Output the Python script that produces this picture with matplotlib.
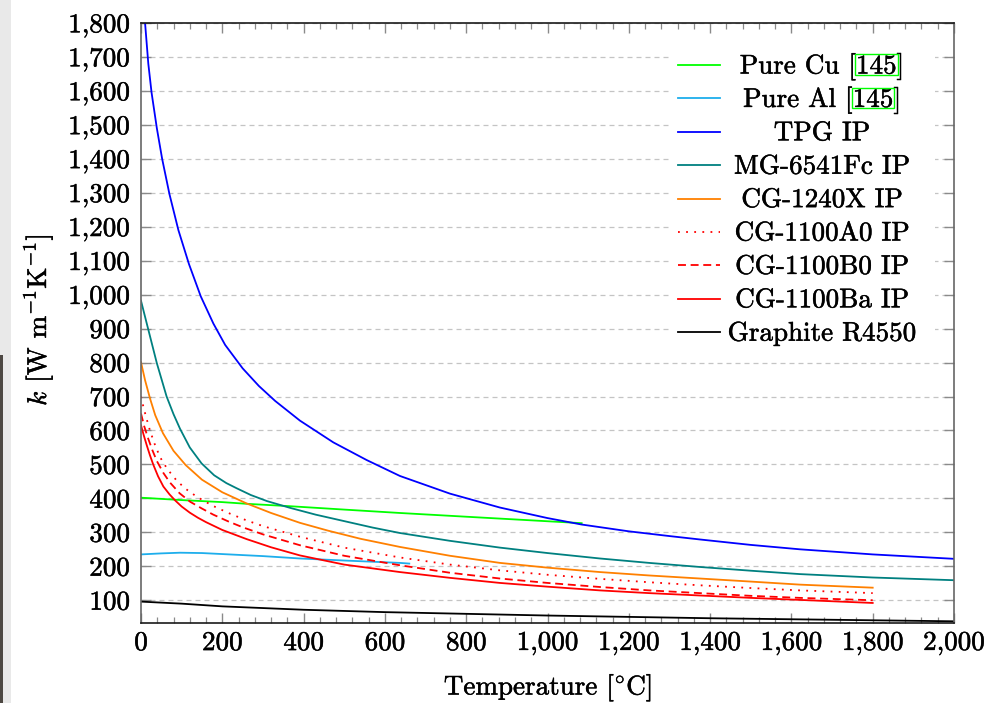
import matplotlib
matplotlib.use('Agg')
import matplotlib.pyplot as plt
import matplotlib.patheffects as pe
from matplotlib.ticker import MultipleLocator, FuncFormatter
from matplotlib.patches import Rectangle
from matplotlib.lines import Line2D

plt.rcParams['font.family'] = 'serif'
plt.rcParams['font.serif'] = ['cmr10']
plt.rcParams['mathtext.fontset'] = 'cm'
plt.rcParams['axes.unicode_minus'] = False
plt.rcParams['axes.formatter.use_mathtext'] = True

# ---------------- data ----------------
cu_T = [0, 100, 200, 260, 366, 500, 637, 800, 950, 1084]
cu_k = [402, 395, 389, 384, 377, 367, 357, 346, 336, 327]

al_T = [0, 50, 96, 150, 200, 300, 391, 500, 637, 660]
al_k = [235, 238, 240, 239, 236, 230, 223, 217, 210, 208]

tpg_T = [10, 18, 26, 39, 52, 70, 92, 118, 147, 178, 207, 250, 290, 330, 391, 473, 555, 637,
         760, 883, 1000, 1084, 1200, 1300, 1375, 1500, 1621, 1800, 2000]
tpg_k = [1800, 1680, 1595, 1490, 1400, 1296, 1190, 1090, 995, 915, 852, 783, 731, 687, 629, 565, 513, 466,
         414, 373, 342, 323, 303, 289, 279, 263, 250, 235, 222]

mg_T = [0, 18, 39, 63, 80, 96, 120, 149, 180, 210, 235, 270, 310, 367, 430, 500, 570, 637,
        760, 883, 1000, 1129, 1250, 1375, 1500, 1621, 1800, 2000]
mg_k = [982, 897, 798, 700, 648, 605, 550, 503, 468, 445, 430, 410, 392, 372, 352, 333, 314, 298,
        275, 255, 239, 223, 210, 198, 187, 177, 167, 159]

cg1240_T = [0, 10, 22, 35, 54, 80, 110, 150, 200, 260, 320, 391, 460, 540, 637, 760, 883,
            1000, 1129, 1250, 1375, 1500, 1621, 1800]
cg1240_k = [801, 748, 695, 645, 592, 540, 498, 455, 418, 385, 357, 328, 305, 281, 257, 231, 210,
            196, 183, 173, 164, 155, 146, 137]

a0_T = [0, 6, 12, 22, 33, 47, 65, 88, 110, 137, 175, 219, 260, 301, 391, 500, 637, 760,
        883, 1000, 1129, 1250, 1375, 1500, 1621, 1800]
a0_k = [700, 669, 642, 600, 562, 521, 486, 452, 428, 405, 379, 355, 335, 318, 287, 255, 226, 205,
        188, 175, 163, 153, 144, 136, 129, 121]

b0_T = [0, 8, 18, 28, 39, 55, 71, 95, 121, 150, 178, 215, 250, 300, 391, 500, 637, 760,
        883, 1000, 1129, 1250, 1375, 1500, 1621, 1800]
b0_k = [650, 612, 575, 542, 510, 475, 447, 415, 390, 370, 352, 332, 315, 294, 262, 231, 203, 181,
        164, 151, 139, 129, 121, 113, 107, 100]

ba_T = [0, 7, 14, 22, 30, 42, 55, 70, 84, 100, 120, 140, 160, 200, 260, 320, 391, 500, 637,
        760, 883, 1000, 1129, 1250, 1375, 1500, 1621, 1800]
ba_k = [615, 585, 557, 527, 500, 465, 435, 412, 394, 376, 358, 343, 330, 307, 280, 256, 232, 205, 183,
        166, 151, 140, 129, 121, 114, 107, 101, 92]

gr_T = [0, 100, 200, 400, 600, 800, 1000, 1200, 1400, 1600, 1800, 2000]
gr_k = [96, 90, 82, 72, 65, 60, 55, 51, 47, 44, 41, 38]

labels = ['Pure Cu [145]', 'Pure Al [145]', 'TPG IP', 'MG-6541Fc IP', 'CG-1240X IP',
          'CG-1100A0 IP', 'CG-1100B0 IP', 'CG-1100Ba IP', 'Graphite R4550']
colors = ['#00FF00', '#1EAEEC', '#0000FF', '#008080', '#FF8000',
          '#FF0000', '#FF0000', '#FF0000', '#000000']
styles = ['-', '-', '-', '-', '-', (0, (1, 3.5)), (0, (4.4, 2.6)), '-', '-']
series = [(cu_T, cu_k), (al_T, al_k), (tpg_T, tpg_k), (mg_T, mg_k), (cg1240_T, cg1240_k),
          (a0_T, a0_k), (b0_T, b0_k), (ba_T, ba_k), (gr_T, gr_k)]

x_ticks = list(range(0, 2001, 200))
y_ticks = list(range(100, 1801, 100))

# ---------------- figure ----------------
W, H = 993, 703
fig = plt.figure(figsize=(W / 100, H / 100), dpi=100)
fig.patch.set_facecolor('white')
FS = 19.5
bold = [pe.withStroke(linewidth=0.35, foreground='black')]


def fx(px):
    return px / W


def fy(py):
    return 1 - py / H


# left screenshot strip
fig.patches.append(Rectangle((0, 0), fx(11), 1, transform=fig.transFigure,
                             facecolor='#e9e9e9', edgecolor='none', zorder=0))
fig.patches.append(Rectangle((0, 0), fx(3), fy(355), transform=fig.transFigure,
                             facecolor='#4d4843', edgecolor='none', zorder=0))

ax = fig.add_axes([fx(141), fy(623), fx(954) - fx(141), fy(23) - fy(623)])

for (T, k), c, ls in zip(series, colors, styles):
    ax.plot(T, k, color=c, lw=1.3, linestyle=ls)

ax.set_xlim(0, 2000)
ax.set_ylim(33, 1800)
ax.set_xticks(x_ticks)
ax.set_yticks(y_ticks)
ax.xaxis.set_minor_locator(MultipleLocator(40))
fmt = FuncFormatter(lambda v, p: f"{int(round(v)):,}")
ax.xaxis.set_major_formatter(fmt)
ax.yaxis.set_major_formatter(fmt)

ax.tick_params(which='both', direction='in', top=True, right=True, color='#8a8a8a',
               labelsize=FS)
ax.tick_params(which='major', length=7, width=1.0)
ax.tick_params(which='minor', length=4.5, width=0.9)
ax.tick_params(axis='y', pad=8)
ax.tick_params(axis='x', pad=6)
for t in ax.get_xticklabels() + ax.get_yticklabels():
    t.set_path_effects(bold)

ax.yaxis.grid(True, color='#c4c4c4', linestyle=(0, (4, 3.2)), linewidth=0.9)
ax.set_axisbelow(True)

for s in ['top', 'bottom']:
    ax.spines[s].set_color('#1a1a1a')
for s in ['left', 'right']:
    ax.spines[s].set_color('#666666')
for s in ax.spines.values():
    s.set_linewidth(1.2)

# axis labels
fig.text(fx(548), fy(688), r'Temperature [$^{\circ}$C]', ha='center', va='center',
         fontsize=FS, path_effects=bold)
fig.text(fx(38), fy(320), r'$k$ [W m$^{-1}$K$^{-1}$]', ha='center', va='center',
         rotation=90, fontsize=FS, path_effects=bold)

# ---------------- legend (manual, centred text) ----------------
fig.patches.append(Rectangle((fx(670), fy(350)), fx(935) - fx(670), fy(40) - fy(350),
                             transform=fig.transFigure, facecolor='white',
                             edgecolor='none', zorder=3))
renderer = fig.canvas.get_renderer()
cx = 822
for i, (lab, c, ls) in enumerate(zip(labels, colors, styles)):
    ly = 65 + i * 33.4
    fig.lines.append(Line2D([fx(678), fx(720)], [fy(ly), fy(ly)], transform=fig.transFigure,
                            color=c, lw=1.3, linestyle=ls, zorder=4))
    base = ly + 8.5
    if '[145]' in lab:
        pieces = [lab.replace('145]', ''), '145', ']']
        texts = [fig.text(0, fy(base), p, ha='left', va='baseline', fontsize=FS, zorder=5,
                          path_effects=bold)
                 for p in pieces]
        widths = [t.get_window_extent(renderer).width for t in texts]
        x0 = cx - sum(widths) / 2
        xs = []
        for t, w in zip(texts, widths):
            t.set_x(fx(x0))
            xs.append(x0)
            x0 += w
        bx0 = xs[1] - 1
        bx1 = xs[1] + widths[1] + 1
        fig.patches.append(Rectangle((fx(bx0), fy(base + 1.5)), fx(bx1) - fx(bx0),
                                     fy(base - 19) - fy(base + 1.5),
                                     transform=fig.transFigure, facecolor='none',
                                     edgecolor='#00FF00', lw=1.0, zorder=6))
    else:
        fig.text(fx(cx), fy(base), lab, ha='center', va='baseline', fontsize=FS, zorder=5,
                 path_effects=bold)

fig.savefig('out.png', dpi=100, facecolor='white')
